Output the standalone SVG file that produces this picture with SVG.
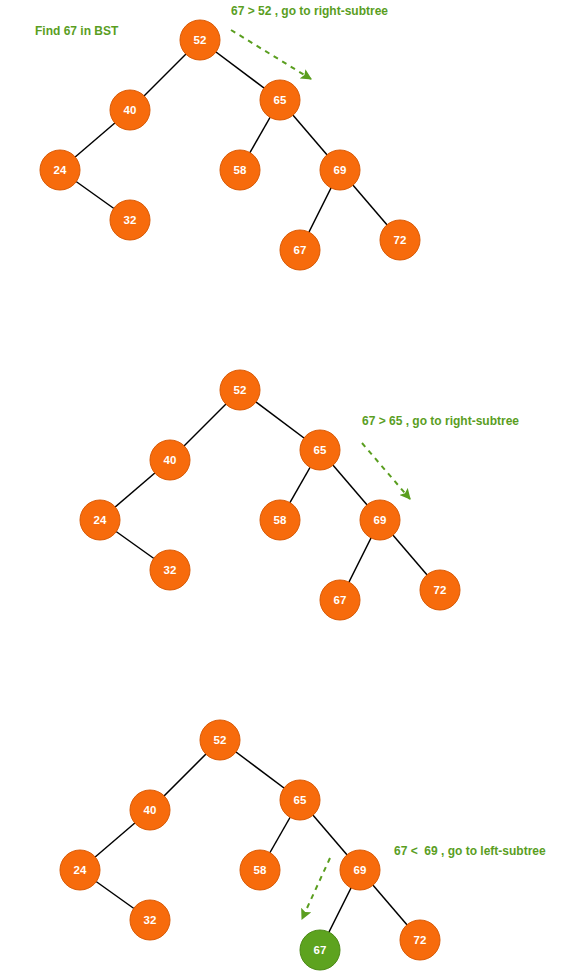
<svg xmlns="http://www.w3.org/2000/svg" width="571" height="971" viewBox="0 0 571 971">
<style>
.n circle{fill:#F76B0C;stroke:#D85A06;stroke-width:1}
.n.g circle{fill:#5DA31F;stroke:#4C8A16}
.n text{fill:#fff;font-family:"Liberation Sans",Arial,sans-serif;font-weight:bold;font-size:11.5px;text-anchor:middle;dominant-baseline:central}
.e line{stroke:#000;stroke-width:1.5}
.lbl{fill:#5A9E1F;font-family:"Liberation Sans",Arial,sans-serif;font-weight:bold;font-size:12px}
.d{stroke:#5A9E1F;stroke-width:2;stroke-dasharray:5,5;fill:none;marker-end:url(#ah)}
</style>
<defs>
<marker id="ah" viewBox="0 0 10 10" refX="9" refY="5" markerWidth="5.5" markerHeight="5.5" orient="auto" markerUnits="strokeWidth">
<path d="M0,0 L10,5 L0,10 L2,5 z" fill="#5A9E1F"/>
</marker>
</defs>
<rect width="571" height="971" fill="#fff"/>
<g id="connectors" class="e">
<line x1="200" y1="40" x2="130" y2="110"/><line x1="200" y1="40" x2="280" y2="100"/><line x1="130" y1="110" x2="60" y2="170"/><line x1="60" y1="170" x2="130" y2="220"/><line x1="280" y1="100" x2="240" y2="170"/><line x1="280" y1="100" x2="340" y2="170"/><line x1="340" y1="170" x2="300" y2="250"/><line x1="340" y1="170" x2="400" y2="240"/>
<line x1="240" y1="390" x2="170" y2="460"/><line x1="240" y1="390" x2="320" y2="450"/><line x1="170" y1="460" x2="100" y2="520"/><line x1="100" y1="520" x2="170" y2="570"/><line x1="320" y1="450" x2="280" y2="520"/><line x1="320" y1="450" x2="380" y2="520"/><line x1="380" y1="520" x2="340" y2="600"/><line x1="380" y1="520" x2="440" y2="590"/>
<line x1="220" y1="740" x2="150" y2="810"/><line x1="220" y1="740" x2="300" y2="800"/><line x1="150" y1="810" x2="80" y2="870"/><line x1="80" y1="870" x2="150" y2="920"/><line x1="300" y1="800" x2="260" y2="870"/><line x1="300" y1="800" x2="360" y2="870"/><line x1="360" y1="870" x2="320" y2="950"/><line x1="360" y1="870" x2="420" y2="940"/>
<path class="d" d="M231,30 L311,79"/>
<path class="d" d="M362,443 L410,499"/>
<path class="d" d="M330,858 L302,919"/>
</g>
<text class="lbl" x="35" y="35">Find 67 in BST</text>
<text class="lbl" x="231" y="15">67 &gt; 52 , go to right-subtree</text>
<text class="lbl" x="362" y="425">67 &gt; 65 , go to right-subtree</text>
<text class="lbl" x="394" y="855" xml:space="preserve">67 &lt;  69 , go to left-subtree</text>
<g id="t1-52" class="n"><circle cx="200" cy="40" r="20"/><text x="200" y="40">52</text></g>
<g id="t1-40" class="n"><circle cx="130" cy="110" r="20"/><text x="130" y="110">40</text></g>
<g id="t1-65" class="n"><circle cx="280" cy="100" r="20"/><text x="280" y="100">65</text></g>
<g id="t1-24" class="n"><circle cx="60" cy="170" r="20"/><text x="60" y="170">24</text></g>
<g id="t1-58" class="n"><circle cx="240" cy="170" r="20"/><text x="240" y="170">58</text></g>
<g id="t1-69" class="n"><circle cx="340" cy="170" r="20"/><text x="340" y="170">69</text></g>
<g id="t1-32" class="n"><circle cx="130" cy="220" r="20"/><text x="130" y="220">32</text></g>
<g id="t1-67" class="n"><circle cx="300" cy="250" r="20"/><text x="300" y="250">67</text></g>
<g id="t1-72" class="n"><circle cx="400" cy="240" r="20"/><text x="400" y="240">72</text></g>
<g id="t2-52" class="n"><circle cx="240" cy="390" r="20"/><text x="240" y="390">52</text></g>
<g id="t2-40" class="n"><circle cx="170" cy="460" r="20"/><text x="170" y="460">40</text></g>
<g id="t2-65" class="n"><circle cx="320" cy="450" r="20"/><text x="320" y="450">65</text></g>
<g id="t2-24" class="n"><circle cx="100" cy="520" r="20"/><text x="100" y="520">24</text></g>
<g id="t2-58" class="n"><circle cx="280" cy="520" r="20"/><text x="280" y="520">58</text></g>
<g id="t2-69" class="n"><circle cx="380" cy="520" r="20"/><text x="380" y="520">69</text></g>
<g id="t2-32" class="n"><circle cx="170" cy="570" r="20"/><text x="170" y="570">32</text></g>
<g id="t2-67" class="n"><circle cx="340" cy="600" r="20"/><text x="340" y="600">67</text></g>
<g id="t2-72" class="n"><circle cx="440" cy="590" r="20"/><text x="440" y="590">72</text></g>
<g id="t3-52" class="n"><circle cx="220" cy="740" r="20"/><text x="220" y="740">52</text></g>
<g id="t3-40" class="n"><circle cx="150" cy="810" r="20"/><text x="150" y="810">40</text></g>
<g id="t3-65" class="n"><circle cx="300" cy="800" r="20"/><text x="300" y="800">65</text></g>
<g id="t3-24" class="n"><circle cx="80" cy="870" r="20"/><text x="80" y="870">24</text></g>
<g id="t3-58" class="n"><circle cx="260" cy="870" r="20"/><text x="260" y="870">58</text></g>
<g id="t3-69" class="n"><circle cx="360" cy="870" r="20"/><text x="360" y="870">69</text></g>
<g id="t3-32" class="n"><circle cx="150" cy="920" r="20"/><text x="150" y="920">32</text></g>
<g id="t3-67" class="n g"><circle cx="320" cy="950" r="20"/><text x="320" y="950">67</text></g>
<g id="t3-72" class="n"><circle cx="420" cy="940" r="20"/><text x="420" y="940">72</text></g>
</svg>
